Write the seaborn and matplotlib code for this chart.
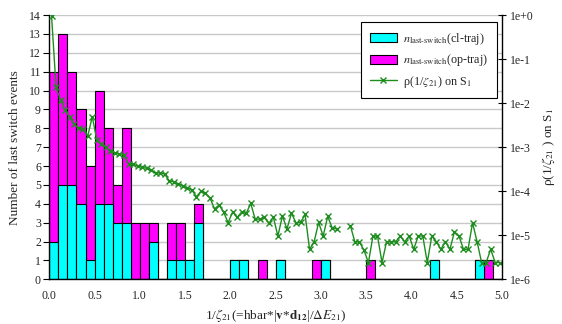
import numpy as np
import pandas as pd
import matplotlib
matplotlib.use("Agg")
import matplotlib.pyplot as plt
import seaborn as sns
from matplotlib.patches import Patch
from matplotlib.lines import Line2D
from matplotlib.ticker import NullLocator, FixedLocator

# ---------------- data ----------------
# histogram bins of width 0.1 (centres)
bin_centers = np.round(np.arange(50) * 0.1 + 0.05, 3)
n_cl = [2, 5, 5, 4, 1, 4, 4, 3, 3, 0,
        0, 2, 0, 1, 1, 1, 3, 0, 0, 0,
        1, 1, 0, 0, 0, 1, 0, 0, 0, 0,
        1, 0, 0, 0, 0, 0, 0, 0, 0, 0,
        0, 0, 1, 0, 0, 0, 0, 1, 0, 0]
n_op = [9, 8, 6, 5, 5, 6, 4, 2, 5, 3,
        3, 1, 0, 2, 2, 0, 1, 0, 0, 0,
        0, 0, 0, 1, 0, 0, 0, 0, 0, 1,
        0, 0, 0, 0, 0, 1, 0, 0, 0, 0,
        0, 0, 0, 0, 0, 0, 0, 0, 1, 0]

# density rho(1/zeta21) on S1, sampled every 0.05
rho_x = np.round(np.arange(100) * 0.05 + 0.025, 3)
rho = [0.95, 2.26e-2, 1.16e-2, 6.97e-3, 4.76e-3, 3.36e-3, 2.68e-3, 2.52e-3, 1.79e-3, 4.91e-3,
       1.45e-3, 1.15e-3, 1.02e-3, 8.3e-4, 7.48e-4, 6.99e-4, 6.63e-4, 4.14e-4, 4.04e-4, 3.79e-4,
       3.49e-4, 3.31e-4, 3.03e-4, 2.55e-4, 2.63e-4, 2.42e-4, 1.73e-4, 1.62e-4, 1.46e-4, 1.33e-4,
       1.2e-4, 1.06e-4, 7.5e-5, 9.95e-5, 8.96e-5, 7.0e-5, 3.95e-5, 4.86e-5, 3.37e-5, 1.92e-5,
       3.37e-5, 2.55e-5, 3.37e-5, 3.15e-5, 5.26e-5, 2.3e-5, 2.34e-5, 2.53e-5, 1.87e-5, 2.55e-5,
       9.6e-6, 2.74e-5, 1.39e-5, 3.15e-5, 1.92e-5, 1.95e-5, 2.96e-5, 4.8e-6, 7.1e-6, 1.95e-5,
       9.6e-6, 2.67e-5, 1.46e-5, 1.39e-5, np.nan, np.nan, 1.66e-5, 7.1e-6, 7.1e-6, 4.6e-6,
       2.4e-6, 9.6e-6, 9.6e-6, 2.4e-6, 7.1e-6, 7.1e-6, 7.1e-6, 9.6e-6, 7.1e-6, 9.6e-6,
       4.8e-6, 9.6e-6, 9.6e-6, 2.4e-6, 9.6e-6, 7.1e-6, 4.8e-6, 7.1e-6, 4.8e-6, 1.2e-5,
       9.6e-6, 4.8e-6, 4.8e-6, 1.92e-5, 7.1e-6, 2.4e-6, 2.4e-6, 4.8e-6, 2.4e-6, 2.4e-6]

x_ticks = [0.0, 0.5, 1.0, 1.5, 2.0, 2.5, 3.0, 3.5, 4.0, 4.5, 5.0]
left_ticks = list(range(0, 15))
right_ticks = [1e-6, 1e-5, 1e-4, 1e-3, 1e-2, 1e-1, 1e0]
right_labels = ["1e-6", "1e-5", "1e-4", "1e-3", "1e-2", "1e-1", "1e+0"]

# ---------------- style ----------------
sns.set_theme(style="white")
plt.rcParams["font.family"] = ["Liberation Serif", "DejaVu Serif"]
plt.rcParams["mathtext.fontset"] = "stix"

CYAN = "#00FFFF"
MAGENTA = "#FF00FF"
GREEN = "#1E8C1E"

fig = plt.figure(figsize=(5.62, 3.24), dpi=100)
ax = fig.add_axes([0.0877, 0.138, 0.8055, 0.8157])

bars = pd.DataFrame({"x": bin_centers,
                     "total": np.array(n_cl) + np.array(n_op),
                     "cl": n_cl})
sns.barplot(data=bars, x="x", y="total", native_scale=True, width=1.0,
            color=MAGENTA, saturation=1, edgecolor="black", linewidth=0.8,
            errorbar=None, ax=ax)
sns.barplot(data=bars, x="x", y="cl", native_scale=True, width=1.0,
            color=CYAN, saturation=1, edgecolor="black", linewidth=0.8,
            errorbar=None, ax=ax)

ax.set_xlim(0, 5)
ax.set_ylim(0, 14)
ax.xaxis.set_major_locator(FixedLocator(x_ticks))
ax.set_xticklabels([f"{t:.1f}" for t in x_ticks])
ax.yaxis.set_major_locator(FixedLocator(left_ticks))
ax.set_yticklabels([str(t) for t in left_ticks])
ax.yaxis.grid(True, color="#c8c8c8", linewidth=1.0)
ax.xaxis.grid(False)
ax.set_axisbelow(True)
ax.tick_params(axis="both", direction="out", length=4, width=0.8,
               labelsize=8.5, color="black", pad=2)
ax.tick_params(axis="x", pad=4)
for s in ["left", "bottom"]:
    ax.spines[s].set_color("black")
    ax.spines[s].set_linewidth(1.0)
ax.spines["top"].set_visible(False)
ax.spines["right"].set_visible(False)

ax.set_xlabel(r"1/$\zeta_{21}$(=hbar*|$\mathbf{v}$*$\mathbf{d}_{\mathbf{12}}$|/$\mathit{\Delta E}_{21}$)",
              fontsize=9.5, labelpad=3)
ax.set_ylabel("Number of last switch events", fontsize=9.5, labelpad=6)

# ---------------- line on log axis ----------------
ax2 = ax.twinx()
ax2.set_yscale("log")
line_df = pd.DataFrame({"x": rho_x, "rho": rho})
line_df["seg"] = np.cumsum(line_df["rho"].isna())
line_df = line_df.dropna()
sns.lineplot(data=line_df, x="x", y="rho", units="seg", estimator=None,
             color=GREEN, linewidth=1.0, marker="x", markersize=4.5,
             markeredgewidth=1.0, markeredgecolor=GREEN, ax=ax2, legend=False)
ax2.set_ylim(1e-6, 1)
ax2.set_xlim(0, 5)
ax2.yaxis.set_major_locator(FixedLocator(right_ticks))
ax2.yaxis.set_minor_locator(NullLocator())
ax2.set_yticklabels(right_labels)
ax2.tick_params(axis="y", direction="inout", length=6, width=0.8,
                labelsize=8.5, color="black", pad=3)
ax2.set_ylabel(r"ρ(1/$\zeta_{21}$ ) on S$_1$", fontsize=9.5, labelpad=4)
ax2.grid(False)
for s in ["left", "top", "bottom"]:
    ax2.spines[s].set_visible(False)
ax2.spines["right"].set_color("black")
ax2.spines["right"].set_linewidth(1.0)

handles = [
    Patch(facecolor=CYAN, edgecolor="black", linewidth=0.8,
          label=r"$n_{\mathrm{last}\text{-}\mathrm{switch}}$(cl-traj)"),
    Patch(facecolor=MAGENTA, edgecolor="black", linewidth=0.8,
          label=r"$n_{\mathrm{last}\text{-}\mathrm{switch}}$(op-traj)"),
    Line2D([0], [0], color=GREEN, linewidth=1.0, marker="x", markersize=4.5,
           markeredgewidth=1.0, label=r"ρ(1/$\zeta_{21}$) on S$_1$"),
]
leg = ax2.legend(handles=handles, loc="upper right", bbox_to_anchor=(0.989, 0.972),
                 fontsize=8.7, frameon=True, fancybox=False, framealpha=1,
                 edgecolor="black", handlelength=2.3, handleheight=0.75,
                 borderpad=0.7, labelspacing=0.45, handletextpad=0.5,
                 borderaxespad=0.0)
leg.get_frame().set_linewidth(0.8)

fig.savefig("out.png", dpi=100)
